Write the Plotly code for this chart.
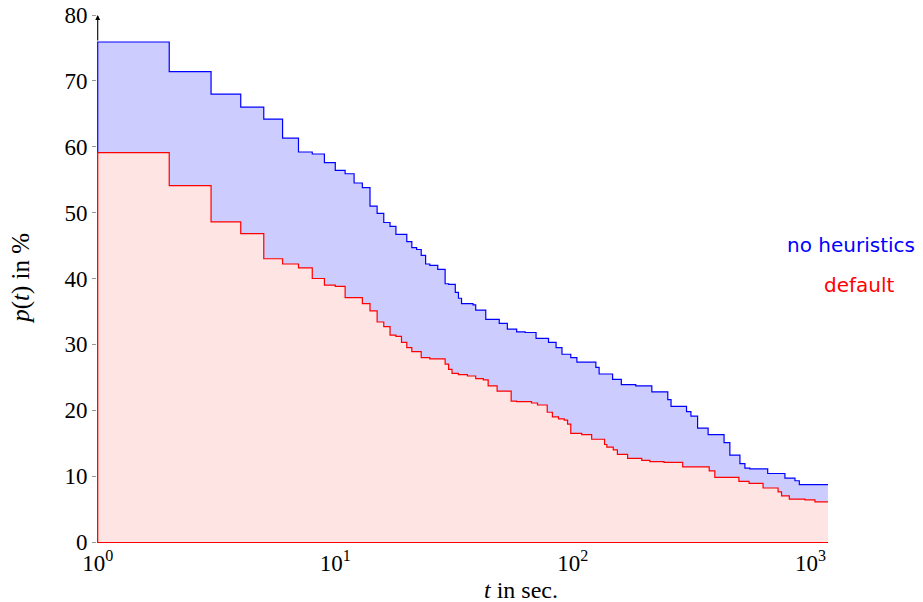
import plotly.graph_objects as go

# time points (seconds) at which each curve steps down, and the level after the step
blue_t = [1, 2, 3, 4, 5, 6, 7, 8, 9, 10, 11, 12, 13, 14, 15, 16, 17, 18, 20, 21, 22, 23, 24, 25, 27,
          29, 30, 32, 33, 34, 38, 39, 43, 49, 53, 58, 63, 70, 79, 85, 90, 98, 104, 125, 129, 147,
          160, 184, 215, 251, 259, 301, 314, 335, 371, 433, 458, 505, 530, 556, 661, 781, 861, 898]
blue_v = [75.9, 71.4, 68.0, 66.0, 64.2, 61.3, 59.2, 58.9, 57.6, 56.4, 55.9, 54.5, 53.8, 51.0, 49.9,
          48.5, 47.9, 46.7, 45.6, 44.7, 44.4, 43.5, 42.2, 42.0, 41.4, 39.2, 39.1, 37.9, 37.0, 36.2,
          36.0, 35.2, 33.8, 33.2, 32.3, 31.9, 31.8, 30.9, 30.3, 29.5, 28.5, 28.0, 27.3, 26.5, 25.5,
          24.7, 23.9, 23.7, 22.8, 21.6, 20.6, 19.8, 19.1, 17.3, 16.3, 15.1, 13.2, 11.9, 11.2, 11.1,
          10.4, 9.7, 9.3, 8.7]

red_t = [1, 2, 3, 4, 5, 6, 7, 8, 9, 10, 11, 13, 14, 15, 16, 17, 18, 19, 20, 21, 23, 25, 29, 30, 31,
         33, 36, 39, 42, 44, 48, 55, 58, 67, 71, 78, 82, 87, 92, 95, 98, 109, 120, 136, 139, 148,
         154, 170, 195, 211, 242, 290, 375, 396, 500, 552, 632, 731, 756, 815, 948, 1045]
red_v = [59.1, 54.1, 48.6, 46.8, 43.0, 42.2, 41.6, 40.0, 39.0, 38.8, 37.1, 36.2, 35.1, 33.4, 32.7,
         31.4, 31.2, 30.3, 29.5, 28.9, 28.0, 27.8, 27.0, 26.2, 25.6, 25.4, 25.2, 24.8, 24.6, 23.7,
         22.9, 21.4, 21.3, 21.1, 20.8, 19.7, 19.0, 18.7, 18.5, 17.9, 16.5, 16.3, 15.6, 14.8, 14.4,
         14.0, 13.3, 12.7, 12.4, 12.2, 12.1, 11.4, 10.8, 9.8, 9.2, 8.9, 8.2, 7.6, 7.0, 6.5, 6.4, 6.1]

t_max = 1185
y_ticks = [0, 10, 20, 30, 40, 50, 60, 70, 80]
x_ticks = [1, 10, 100, 1000]
x_ticktext = ["10<sup>0</sup>", "10<sup>1</sup>", "10<sup>2</sup>", "10<sup>3</sup>"]

BLUE = "#0000ff"
RED = "#ff0000"
serif = "Liberation Serif"
sans = "DejaVu Sans"


def path(ts, vs):
    xs = [ts[0]] + list(ts) + [t_max]
    ys = [0] + list(vs) + [vs[-1]]
    return xs, ys


fig = go.Figure()
bx, by = path(blue_t, blue_v)
rx, ry = path(red_t, red_v)
fig.add_trace(go.Scatter(x=bx, y=by, mode="lines", line=dict(color=BLUE, width=1.2, shape="hv"),
                         fill="tozeroy", fillcolor="rgb(204,204,255)", name="no heuristics",
                         showlegend=False, hoverinfo="skip"))
fig.add_trace(go.Scatter(x=rx, y=ry, mode="lines", line=dict(color=RED, width=1.2, shape="hv"),
                         fill="tozeroy", fillcolor="rgb(255,228,228)", name="default",
                         showlegend=False, hoverinfo="skip"))

fig.update_layout(
    width=923, height=602,
    margin=dict(l=97, r=95, t=15, b=60),
    paper_bgcolor="white", plot_bgcolor="white",
    font=dict(family=serif, size=23, color="black"),
    xaxis=dict(type="log", range=[-0.003, 3.074], showgrid=False, zeroline=False, automargin=False,
               showline=True, linecolor=RED, linewidth=1.2, layer="below traces",
               tickvals=x_ticks, ticktext=x_ticktext, ticks="inside", ticklen=5,
               tickcolor="#999999", tickfont=dict(family=serif, size=23),
               ticklabeloverflow="allow",
               minor=dict(ticks="inside", ticklen=3, tickcolor="#aaaaaa", dtick="D1", showgrid=False)),
    yaxis=dict(range=[0, 80], showgrid=False, zeroline=False, showline=False, automargin=False,
               tickvals=y_ticks, ticks="outside", ticklen=4, tickcolor="#999999",
               tickfont=dict(family=serif, size=23), ticklabeloverflow="allow"),
)

# y axis with arrow tip above the curves
fig.add_annotation(x=0, xref="x", y=80, yref="y", ax=0, axref="x", ay=blue_v[0], ayref="y",
                   text="", showarrow=True, arrowhead=2, arrowsize=0.9, arrowwidth=1.1,
                   arrowcolor="black")

# axis titles
fig.add_annotation(x=0.58, y=-0.091, xref="paper", yref="paper", showarrow=False,
                   xanchor="center", yanchor="middle",
                   text="<i>t</i> in sec.", font=dict(family=serif, size=24))
fig.add_annotation(x=-0.105, y=0.5, xref="paper", yref="paper", showarrow=False, textangle=-90,
                   xanchor="center", yanchor="middle",
                   text="<i>p</i>(<i>t</i>) in %", font=dict(family=serif, size=25))

# series labels
fig.add_annotation(x=1.1218, y=0.5636, xref="paper", yref="paper", showarrow=False,
                   xanchor="right", yanchor="middle", text="no heuristics",
                   font=dict(family=sans, size=20, color=BLUE))
fig.add_annotation(x=1.0944, y=0.4877, xref="paper", yref="paper", showarrow=False,
                   xanchor="right", yanchor="middle", text="default",
                   font=dict(family=sans, size=20, color=RED))

fig.write_html("out.html", config={"displayModeBar": False},
               post_script="document.body.style.margin='0';document.body.style.overflow='hidden';")
